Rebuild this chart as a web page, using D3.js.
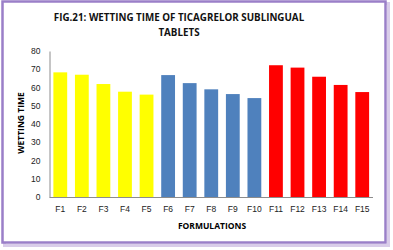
<!DOCTYPE html>
<html>
<head>
<meta charset="utf-8">
<script src="https://cdn.jsdelivr.net/npm/d3@7"></script>
<style>
  body { margin: 0; background: #fff; }
  svg { display: block; font-family: "Open Sans", "DejaVu Sans", sans-serif; }
</style>
</head>
<body>
<div id="chart"></div>
<script>
// formulations and their wetting time
const formulations = ["F1", "F2", "F3", "F4", "F5", "F6", "F7", "F8", "F9", "F10", "F11", "F12", "F13", "F14", "F15"];
const wettingTime = [68.3, 67, 61.9, 57.7, 56.1, 66.8, 62.4, 59, 56.4, 54.2, 72.2, 70.9, 65.9, 61.4, 57.5];
const groupColors = ["#ffff00", "#4f81bd", "#ff0000"];
const yTicks = [0, 10, 20, 30, 40, 50, 60, 70, 80];

const width = 393,
  height = 250,
  margin = { top: 51, right: 20, bottom: 53, left: 49.5 };

const svg = d3.select("#chart")
  .append("svg")
  .attr("width", width)
  .attr("height", height);

// purple frame with a soft shadow
svg.append("rect")
  .attr("x", 4.5).attr("y", 3.5)
  .attr("width", 384).attr("height", 242)
  .attr("fill", "none")
  .attr("stroke", "#d9cde9")
  .attr("stroke-width", 3);
svg.append("rect")
  .attr("x", 2.5).attr("y", 1.5)
  .attr("width", 383).attr("height", 241)
  .attr("fill", "#fff")
  .attr("stroke", "#9a7fc8")
  .attr("stroke-width", 2.5);

const x = d3.scaleBand()
  .domain(formulations)
  .range([margin.left, 373])
  .paddingInner(0.36)
  .paddingOuter(0.18);

const y = d3.scaleLinear()
  .domain([0, 80])
  .range([197, margin.top]);

svg.append("g")
  .selectAll("rect")
  .data(formulations)
  .join("rect")
  .attr("x", d => x(d))
  .attr("y", (d, i) => y(wettingTime[i]))
  .attr("width", x.bandwidth())
  .attr("height", (d, i) => y(0) - y(wettingTime[i]))
  .attr("fill", (d, i) => groupColors[Math.floor(i / 5)]);

// y axis
const yAxis = svg.append("g")
  .attr("transform", `translate(${margin.left},0)`)
  .call(d3.axisLeft(y).tickValues(yTicks).tickSize(0).tickPadding(9));
yAxis.select(".domain").attr("stroke", "#8c8c8c");
yAxis.selectAll("text").attr("font-size", 8.5).attr("fill", "#222");

// x axis
const xAxis = svg.append("g")
  .attr("transform", `translate(0,${y(0)})`)
  .call(d3.axisBottom(x).tickSize(0).tickPadding(9));
xAxis.select(".domain").attr("stroke", "#8c8c8c").attr("d", `M${margin.left},0.5H373`);
xAxis.selectAll("text").attr("font-size", 8.5).attr("fill", "#222");

// title
const title = svg.append("text")
  .attr("text-anchor", "middle")
  .attr("font-weight", "bold")
  .attr("font-size", 9.8)
  .attr("fill", "#111");
title.append("tspan").attr("x", 179).attr("y", 21).text("FIG.21: WETTING TIME OF TICAGRELOR SUBLINGUAL");
title.append("tspan").attr("x", 179).attr("y", 36).text("TABLETS");

svg.append("text")
  .attr("text-anchor", "middle")
  .attr("font-weight", "bold")
  .attr("font-size", 8.5)
  .attr("transform", `translate(24,123) rotate(-90)`)
  .text("WETTING TIME");

svg.append("text")
  .attr("text-anchor", "middle")
  .attr("font-weight", "bold")
  .attr("font-size", 8.5)
  .attr("x", 212)
  .attr("y", 229)
  .text("FORMULATIONS");
</script>
</body>
</html>
